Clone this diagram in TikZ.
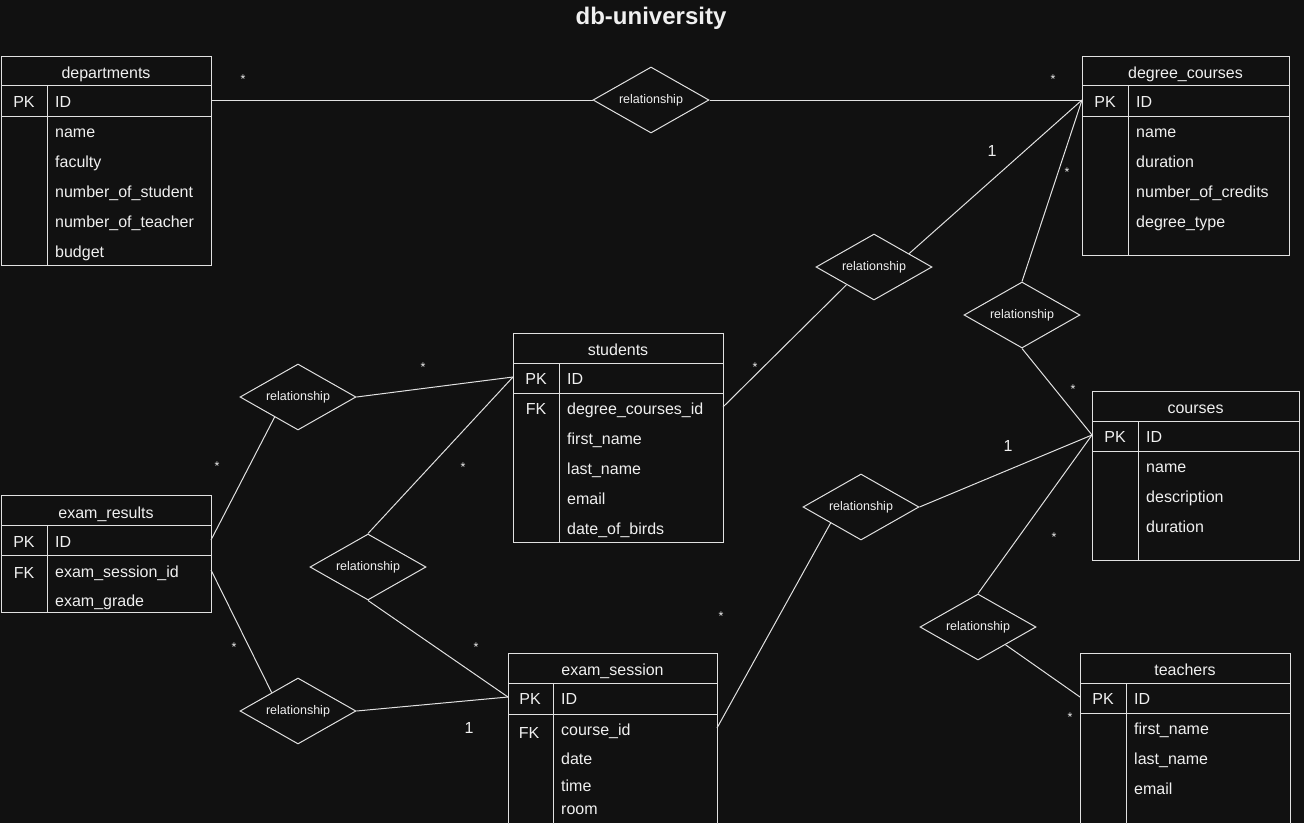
\documentclass[tikz,border=0pt]{standalone}
\usepackage{fontspec}
\setmainfont{Liberation Sans}
\usetikzlibrary{shapes.geometric,calc}
\definecolor{bg}{RGB}{17,17,17}
\definecolor{fg}{RGB}{240,240,240}
\definecolor{ln}{RGB}{225,225,225}
\begin{document}
\begin{tikzpicture}[x=1pt,y=-1pt,
  tablebox/.style={draw=ln,line width=1pt,inner sep=0pt,outer sep=0pt},
  tline/.style={draw=ln,line width=1pt},
  rowtext/.style={text=fg,font=\fontsize{16}{19}\selectfont,inner sep=0pt,anchor=west,text height=15pt,text depth=1pt},
  headtext/.style={text=fg,font=\fontsize{16}{19}\selectfont,inner sep=0pt,text height=15pt,text depth=1pt},
  rel/.style={diamond,draw=ln,line width=1pt,aspect=1.76,inner sep=0pt,minimum width=116pt,minimum height=66pt,text=fg,font=\fontsize{12.5}{14}\selectfont},
  conn/.style={draw=ln,line width=1pt},
  star/.style={text=fg,font=\fontsize{12.5}{14}\selectfont,inner sep=0pt},
  one/.style={text=fg,font=\fontsize{16}{19}\selectfont,inner sep=0pt,text height=14pt,text depth=1pt}]
\fill[bg] (0,0) rectangle (1304,823);
\useasboundingbox (0,0) rectangle (1304,823);
\clip (0,0) rectangle (1304,823);

% title
\node[text=fg,font=\fontsize{24}{28}\bfseries] (title) at (651,18) {db-university};

% ---------- departments ----------
\node[tablebox,minimum width=210pt,minimum height=209pt] (dep) at (106,160.5) {};
\draw[tline] (1,85) -- (211,85);
\draw[tline] (1,116) -- (211,116);
\draw[tline] (47,85) -- (47,265);
\node[headtext] (dep-h) at (106,71) {departments};
\node[headtext] (dep-pk) at (24,100) {PK};
\node[rowtext] (dep-id) at (55,100) {ID};
\node[rowtext] (dep-r1) at (55,130) {name};
\node[rowtext] (dep-r2) at (55,160) {faculty};
\node[rowtext] (dep-r3) at (55,190) {number\_of\_student};
\node[rowtext] (dep-r4) at (55,220) {number\_of\_teacher};
\node[rowtext] (dep-r5) at (55,250) {budget};

% ---------- degree_courses ----------
\node[tablebox,minimum width=207pt,minimum height=199pt] (deg) at (1185.5,155.5) {};
\draw[tline] (1082,85) -- (1289,85);
\draw[tline] (1082,116) -- (1289,116);
\draw[tline] (1128,85) -- (1128,255);
\node[headtext] (deg-h) at (1185.5,71) {degree\_courses};
\node[headtext] (deg-pk) at (1105,100) {PK};
\node[rowtext] (deg-id) at (1136,100) {ID};
\node[rowtext] (deg-r1) at (1136,130) {name};
\node[rowtext] (deg-r2) at (1136,160) {duration};
\node[rowtext] (deg-r3) at (1136,190) {number\_of\_credits};
\node[rowtext] (deg-r4) at (1136,220) {degree\_type};

% ---------- students ----------
\node[tablebox,minimum width=210pt,minimum height=209pt] (stu) at (618,437.5) {};
\draw[tline] (513,363) -- (723,363);
\draw[tline] (513,393) -- (723,393);
\draw[tline] (559,363) -- (559,542);
\node[headtext] (stu-h) at (618,348) {students};
\node[headtext] (stu-pk) at (536,377) {PK};
\node[rowtext] (stu-id) at (567,377) {ID};
\node[headtext] (stu-fkl) at (536,407) {FK};
\node[rowtext] (stu-fk) at (567,407) {degree\_courses\_id};
\node[rowtext] (stu-r1) at (567,437) {first\_name};
\node[rowtext] (stu-r2) at (567,467) {last\_name};
\node[rowtext] (stu-r3) at (567,497) {email};
\node[rowtext] (stu-r4) at (567,527) {date\_of\_birds};

% ---------- exam_results ----------
\node[tablebox,minimum width=210pt,minimum height=117pt] (res) at (106,553.5) {};
\draw[tline] (1,525) -- (211,525);
\draw[tline] (1,555) -- (211,555);
\draw[tline] (47,525) -- (47,612);
\node[headtext] (res-h) at (106,511) {exam\_results};
\node[headtext] (res-pk) at (24,540) {PK};
\node[rowtext] (res-id) at (55,540) {ID};
\node[headtext] (res-fkl) at (24,571) {FK};
\node[rowtext] (res-fk) at (55,570) {exam\_session\_id};
\node[rowtext] (res-r1) at (55,599) {exam\_grade};

% ---------- exam_session ----------
\node[tablebox,minimum width=209pt,minimum height=175pt] (ses) at (612.5,740.5) {};
\draw[tline] (508,683) -- (717,683);
\draw[tline] (508,714) -- (717,714);
\draw[tline] (553,683) -- (553,830);
\node[headtext] (ses-h) at (612.5,668) {exam\_session};
\node[headtext] (ses-pk) at (530,697) {PK};
\node[rowtext] (ses-id) at (561,697) {ID};
\node[headtext] (ses-fkl) at (529,731) {FK};
\node[rowtext] (ses-fk) at (561,728) {course\_id};
\node[rowtext] (ses-r1) at (561,757) {date};
\node[rowtext] (ses-r2) at (561,784) {time};
\node[rowtext] (ses-r3) at (561,807) {room};

% ---------- courses ----------
\node[tablebox,minimum width=207pt,minimum height=169pt] (crs) at (1195.5,475.5) {};
\draw[tline] (1092,421) -- (1299,421);
\draw[tline] (1092,451) -- (1299,451);
\draw[tline] (1138,421) -- (1138,560);
\node[headtext] (crs-h) at (1195.5,406) {courses};
\node[headtext] (crs-pk) at (1115,435) {PK};
\node[rowtext] (crs-id) at (1146,435) {ID};
\node[rowtext] (crs-r1) at (1146,465) {name};
\node[rowtext] (crs-r2) at (1146,495) {description};
\node[rowtext] (crs-r3) at (1146,525) {duration};

% ---------- teachers ----------
\node[tablebox,minimum width=210pt,minimum height=175pt] (tea) at (1185,740.5) {};
\draw[tline] (1080,683) -- (1290,683);
\draw[tline] (1080,713) -- (1290,713);
\draw[tline] (1126,683) -- (1126,830);
\node[headtext] (tea-h) at (1185,668) {teachers};
\node[headtext] (tea-pk) at (1103,697) {PK};
\node[rowtext] (tea-id) at (1134,697) {ID};
\node[rowtext] (tea-r1) at (1134,727) {first\_name};
\node[rowtext] (tea-r2) at (1134,757) {last\_name};
\node[rowtext] (tea-r3) at (1134,787) {email};

% ---------- relationships ----------
\node[rel] (r1) at (651,100) {\raisebox{-1pt}{relationship}};
\node[rel] (r2) at (874,267) {\raisebox{-1pt}{relationship}};
\node[rel] (r3) at (1022,315) {\raisebox{-1pt}{relationship}};
\node[rel] (r4) at (298,397) {\raisebox{-1pt}{relationship}};
\node[rel] (r5) at (368,567) {\raisebox{-1pt}{relationship}};
\node[rel] (r6) at (298,711) {\raisebox{-1pt}{relationship}};
\node[rel] (r7) at (861,507) {\raisebox{-1pt}{relationship}};
\node[rel] (r8) at (978,627) {\raisebox{-1pt}{relationship}};

% ---------- connectors ----------
\draw[conn] (dep-id -| dep.east) -- (r1.west);
\draw[conn] (r1.east) -- (deg-id -| deg.west);
\draw[conn] ($(r2.north)!0.6!(r2.east)$) -- (deg-id -| deg.west);
\draw[conn] ($(r2.west)!0.53!(r2.south)$) -- (stu-fk -| stu.east);
\draw[conn] (r3.north) -- (deg-id -| deg.west);
\draw[conn] (r3.south) -- (crs-id -| crs.west);
\draw[conn] (r4.east) -- (stu-id -| stu.west);
\draw[conn] ($(r4.west)!0.6!(r4.south)$) -- (res-id -| res.east);
\draw[conn] (r5.north) -- (stu-id -| stu.west);
\draw[conn] (r5.south) -- (ses-id -| ses.west);
\draw[conn] (r6.east) -- (ses-id -| ses.west);
\draw[conn] ($(r6.west)!0.55!(r6.north)$) -- (res-fk -| res.east);
\draw[conn] (r7.east) -- (crs-id -| crs.west);
\draw[conn] ($(r7.west)!0.48!(r7.south)$) -- (ses-fk -| ses.east);
\draw[conn] (r8.north) -- (crs-id -| crs.west);
\draw[conn] ($(r8.south)!0.47!(r8.east)$) -- (tea-id -| tea.west);

% ---------- multiplicities ----------
\node[star] (m1) at (243,79) {*};
\node[star] (m2) at (1053,79) {*};
\node[one] (m3) at (992,150) {1};
\node[star] (m4) at (1067,172) {*};
\node[star] (m5) at (755,367) {*};
\node[star] (m6) at (1073,389) {*};
\node[one] (m7) at (1008,445) {1};
\node[star] (m8) at (1054,537) {*};
\node[star] (m9) at (423,367) {*};
\node[star] (m10) at (217,466) {*};
\node[star] (m11) at (463,467) {*};
\node[star] (m12) at (476,647) {*};
\node[star] (m13) at (234,647) {*};
\node[one] (m14) at (469,727) {1};
\node[star] (m15) at (721,616) {*};
\node[star] (m16) at (1070,717) {*};
\end{tikzpicture}
\end{document}
